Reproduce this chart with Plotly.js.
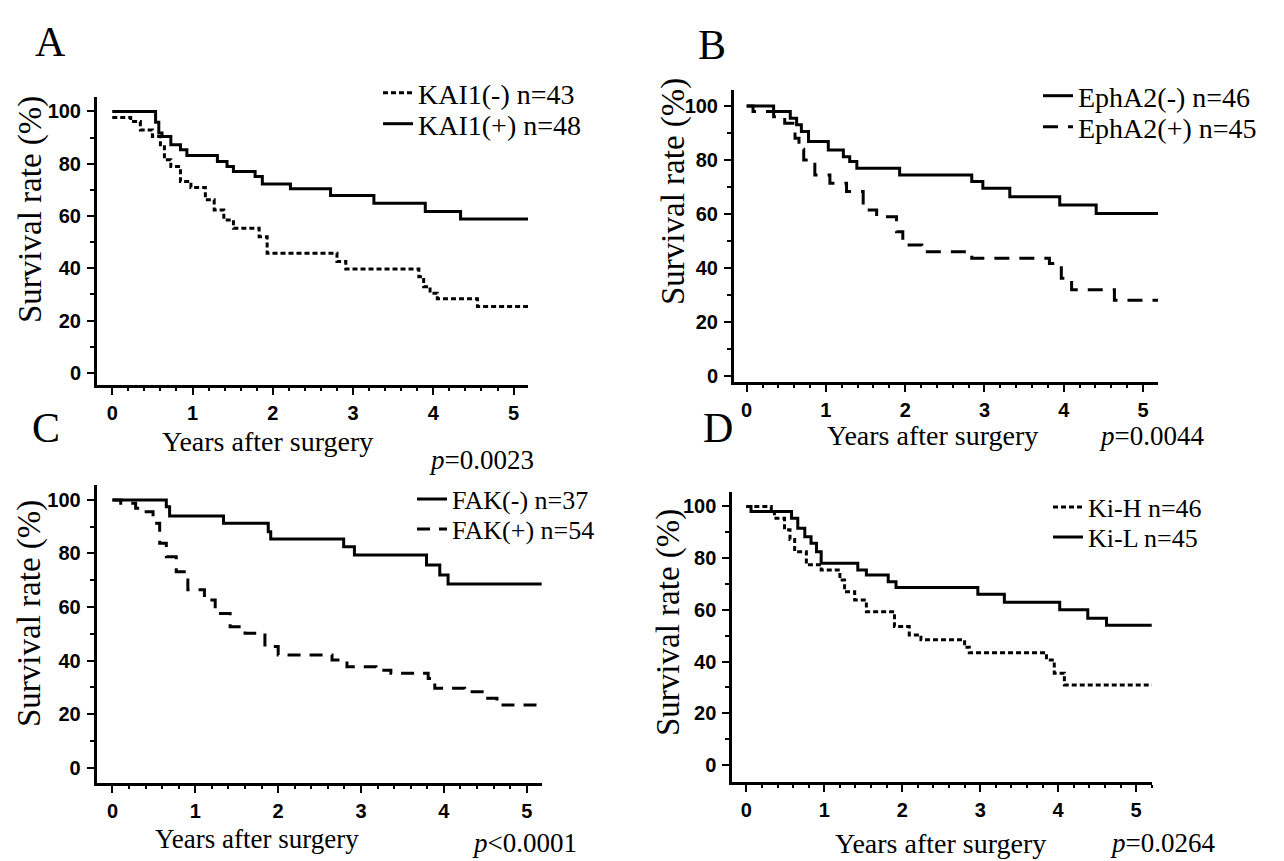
<!DOCTYPE html>
<html>
<head>
<meta charset="utf-8">
<script src="https://cdn.plot.ly/plotly-3.0.1.min.js"></script>
<style>html,body{margin:0;padding:0;background:#fff;}#chart{width:1284px;height:861px;}</style>
</head>
<body>
<div id="chart"></div>
<script>
// ---------------- DATA ----------------
// Panel A : KAI1
const yearsKAI1neg = [0, 0.23, 0.35, 0.50, 0.60, 0.65, 0.73, 0.85, 0.98, 1.16, 1.27, 1.39, 1.51, 1.83, 1.93, 2.80, 2.91, 3.82, 3.88, 3.96, 4.05, 4.55, 5.18];
const survKAI1neg  = [97.7, 96.1, 92.9, 90.4, 86.5, 81.5, 78.9, 73.2, 70.9, 66.2, 62.3, 58.5, 55.3, 52.1, 45.8, 42.6, 39.7, 36.8, 33.0, 30.5, 28.4, 25.4, 25.4];
const yearsKAI1pos = [0, 0.54, 0.58, 0.62, 0.73, 0.85, 0.93, 1.31, 1.43, 1.51, 1.78, 1.87, 2.22, 2.72, 3.26, 3.90, 4.34, 5.18];
const survKAI1pos  = [100, 95.8, 91.7, 90.4, 87.2, 85.3, 83.1, 80.8, 78.9, 77.0, 75.1, 72.2, 70.4, 67.8, 64.9, 61.7, 58.9, 58.9];
// Panel B : EphA2
const yearsEphA2neg = [0, 0.34, 0.55, 0.63, 0.69, 0.78, 1.03, 1.22, 1.30, 1.39, 1.93, 2.84, 2.98, 3.32, 3.95, 4.41, 5.22];
const survEphA2neg  = [100, 97.9, 95.4, 93.0, 90.5, 86.8, 83.7, 81.2, 79.4, 76.9, 74.4, 72.0, 69.5, 66.4, 63.3, 60.2, 60.2];
const yearsEphA2pos = [0, 0.08, 0.34, 0.48, 0.61, 0.66, 0.72, 0.86, 1.05, 1.26, 1.47, 1.64, 1.89, 1.97, 2.21, 2.84, 3.82, 3.97, 4.10, 4.64, 5.20];
const survEphA2pos  = [100, 97.9, 96.0, 93.6, 88.0, 84.0, 80.0, 74.4, 71.4, 68.3, 61.5, 59.0, 53.4, 48.5, 46.0, 43.6, 41.7, 36.2, 31.9, 28.1, 28.1];
// Panel C : FAK
const yearsFAKneg = [0, 0.65, 0.69, 1.34, 1.88, 1.91, 2.79, 2.92, 3.79, 3.95, 4.05, 5.21];
const survFAKneg  = [100, 97.5, 94.0, 91.3, 88.1, 85.4, 82.5, 79.4, 75.7, 72.0, 68.6, 68.6];
const yearsFAKpos = [0, 0.10, 0.28, 0.34, 0.49, 0.57, 0.65, 0.77, 0.91, 1.11, 1.24, 1.42, 1.60, 1.84, 2.00, 2.65, 2.83, 3.18, 3.36, 3.81, 3.89, 4.25, 4.48, 4.64, 5.21];
const survFAKpos  = [100, 98.8, 96.9, 95.6, 91.3, 83.8, 78.8, 73.2, 66.4, 62.6, 57.6, 52.6, 50.2, 45.2, 42.1, 40.2, 37.7, 36.4, 35.2, 33.3, 29.6, 28.3, 25.9, 23.4, 23.4];
// Panel D : Ki-67
const yearsKiH = [0, 0.32, 0.36, 0.49, 0.56, 0.62, 0.77, 0.96, 1.20, 1.26, 1.39, 1.54, 1.90, 2.09, 2.24, 2.80, 2.86, 3.85, 3.95, 4.08, 5.22];
const survKiH  = [100, 98.0, 95.4, 91.0, 87.2, 82.5, 77.4, 75.4, 71.5, 67.0, 63.8, 59.3, 53.5, 50.3, 48.4, 45.5, 43.4, 40.6, 35.5, 30.9, 30.9];
const yearsKiL = [0, 0.06, 0.58, 0.66, 0.75, 0.83, 0.90, 0.96, 1.43, 1.54, 1.82, 1.92, 2.97, 3.31, 4.02, 4.38, 4.62, 5.22];
const survKiL  = [100, 98.0, 95.4, 91.6, 88.3, 85.8, 82.5, 78.0, 75.4, 73.5, 70.9, 68.6, 66.0, 62.9, 60.0, 56.7, 54.0, 54.0];

const seriesNames = ['KAI1(-) n=43', 'KAI1(+) n=48', 'EphA2(-) n=46', 'EphA2(+) n=45',
                     'FAK(-) n=37', 'FAK(+) n=54', 'Ki-H n=46', 'Ki-L n=45'];
const panelLetters = ['A', 'B', 'C', 'D'];
const pValues = ['<i>p</i>=0.0023', '<i>p</i>=0.0044', '<i>p</i><0.0001', '<i>p</i>=0.0264'];
const xTitle = 'Years after surgery';
const yTitle = 'Survival rate (%)';

// ---------------- LAYOUT HELPERS ----------------
const W = 1284, H = 861;
const fx = px => px / W;
const fy = py => 1 - py / H;
const SERIF = 'Liberation Serif, Times New Roman, serif';
const TICKFONT = {family: 'Liberation Sans, Arial, sans-serif', size: 20, color: '#000', weight: 'bold'};
const DOT = '5px,3px';
const DASH = '15px,10px';

function line(dash) { return {shape: 'hv', color: '#000', width: 3, dash: dash}; }

const traces = [
  {x: yearsKAI1neg, y: survKAI1neg, xaxis: 'x', yaxis: 'y', name: seriesNames[0], legend: 'legend', line: line(DOT)},
  {x: yearsKAI1pos, y: survKAI1pos, xaxis: 'x', yaxis: 'y', name: seriesNames[1], legend: 'legend2', line: line('solid')},
  {x: yearsEphA2neg, y: survEphA2neg, xaxis: 'x2', yaxis: 'y2', name: seriesNames[2], legend: 'legend3', line: line('solid')},
  {x: yearsEphA2pos, y: survEphA2pos, xaxis: 'x2', yaxis: 'y2', name: seriesNames[3], legend: 'legend4', line: line(DASH)},
  {x: yearsFAKneg, y: survFAKneg, xaxis: 'x3', yaxis: 'y3', name: seriesNames[4], legend: 'legend5', line: line('solid')},
  {x: yearsFAKpos, y: survFAKpos, xaxis: 'x3', yaxis: 'y3', name: seriesNames[5], legend: 'legend6', line: line('13px,9px')},
  {x: yearsKiH, y: survKiH, xaxis: 'x4', yaxis: 'y4', name: seriesNames[6], legend: 'legend7', line: line(DOT)},
  {x: yearsKiL, y: survKiL, xaxis: 'x4', yaxis: 'y4', name: seriesNames[7], legend: 'legend8', line: line('solid')}
].map(t => Object.assign({type: 'scatter', mode: 'lines', hoverinfo: 'skip'}, t));

function xAxis(domain, range, anchor) {
  return {domain: domain, range: range, anchor: anchor, showline: true, linewidth: 3, linecolor: '#000',
    showgrid: false, zeroline: false, ticks: 'outside', ticklen: 7, tickwidth: 2, tickcolor: '#000',
    dtick: 1, tick0: 0, tickfont: TICKFONT, ticklabelstandoff: 1,
    minor: {dtick: 0.2, tick0: 0, ticks: 'outside', ticklen: 3, tickwidth: 2, tickcolor: '#000', showgrid: false},
    fixedrange: true};
}
function yAxis(domain, range, anchor) {
  return {domain: domain, range: range, anchor: anchor, showline: true, linewidth: 3, linecolor: '#000',
    showgrid: false, zeroline: false, ticks: 'outside', ticklen: 7, tickwidth: 2, tickcolor: '#000',
    dtick: 20, tick0: 0, tickfont: TICKFONT, ticklabelstandoff: 2,
    minor: {dtick: 10, tick0: 0, ticks: 'outside', ticklen: 4, tickwidth: 2, tickcolor: '#000', showgrid: false},
    fixedrange: true};
}

function legendAt(textLeftPx, centerPx, size) {
  return {x: fx(textLeftPx - 40), y: fy(centerPx), xanchor: 'left', yanchor: 'middle',
    bgcolor: 'rgba(0,0,0,0)', borderwidth: 0, itemwidth: 30, tracegroupgap: 0,
    font: {family: SERIF, size: size, color: '#000'}};
}

function ann(text, xpx, ypx, size, opts) {
  return Object.assign({text: text, xref: 'paper', yref: 'paper', x: fx(xpx), y: fy(ypx),
    xanchor: 'center', yanchor: 'middle', showarrow: false,
    font: {family: SERIF, size: size, color: '#000'}}, opts || {});
}

const annotations = [
  ann(panelLetters[0], 50, 42, 42), ann(panelLetters[1], 712, 45, 42),
  ann(panelLetters[2], 46, 428, 42), ann(panelLetters[3], 718, 428, 42),
  ann(yTitle, 30, 210, 33, {textangle: -90}), ann(yTitle, 674, 192, 33, {textangle: -90}),
  ann(yTitle, 29, 614, 33, {textangle: -90}), ann(yTitle, 668, 622, 33, {textangle: -90}),
  ann(xTitle, 267, 441, 28), ann(xTitle, 932, 436, 28),
  ann(xTitle, 257, 839, 27), ann(xTitle, 940, 843, 28),
  ann(pValues[0], 427, 460, 27, {xanchor: 'left'}), ann(pValues[1], 1097, 436, 27, {xanchor: 'left'}),
  ann(pValues[2], 470, 843, 27, {xanchor: 'left'}), ann(pValues[3], 1108, 843, 27, {xanchor: 'left'})
];

const layout = {
  width: W, height: H, margin: {l: 0, r: 0, t: 0, b: 0},
  paper_bgcolor: '#fff', plot_bgcolor: 'rgba(0,0,0,0)', showlegend: true,
  xaxis:  xAxis([fx(97), fx(528)], [-0.19, 5.18], 'y'),
  yaxis:  yAxis([fy(385), fy(97)], [-4.6, 105.5], 'x'),
  xaxis2: xAxis([fx(734), fx(1158)], [-0.16, 5.19], 'y2'),
  yaxis2: yAxis([fy(381.7), fy(90)], [-2.1, 105.9], 'x2'),
  xaxis3: xAxis([fx(96.7), fx(541.7)], [-0.19, 5.18], 'y3'),
  yaxis3: yAxis([fy(783.3), fy(485)], [-5.9, 105.6], 'x3'),
  xaxis4: xAxis([fx(732.3), fx(1151.7)], [-0.18, 5.2], 'y4'),
  yaxis4: yAxis([fy(781.7), fy(491.7)], [-6.5, 105.7], 'x4'),
  legend:  legendAt(418, 93, 28),
  legend2: legendAt(418, 124, 28),
  legend3: legendAt(1078, 96, 28),
  legend4: legendAt(1078, 127, 28),
  legend5: legendAt(452, 499, 26),
  legend6: legendAt(452, 529, 26),
  legend7: legendAt(1088, 507, 26),
  legend8: legendAt(1088, 537, 26),
  annotations: annotations
};

Plotly.newPlot('chart', traces, layout, {staticPlot: true, displayModeBar: false});
</script>
</body>
</html>
